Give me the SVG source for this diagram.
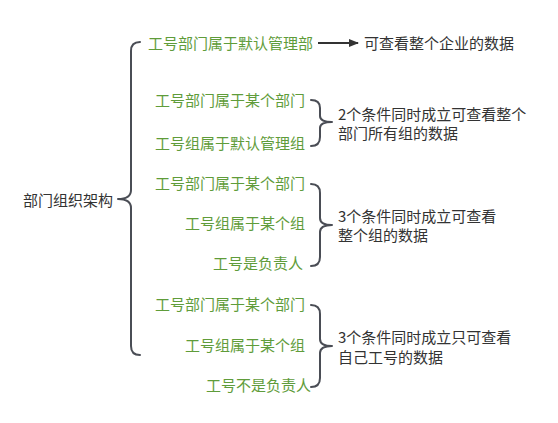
<svg xmlns="http://www.w3.org/2000/svg" width="558" height="423" viewBox="0 0 558 423">
<defs>
<style>
text{font-family:"Noto Sans CJK SC","Microsoft YaHei",sans-serif;font-size:15px;}
.g{fill:#5f9c3a;}
.d{fill:#333333;}
.br{fill:none;stroke:#4a4d55;stroke-width:2;stroke-linecap:round;stroke-linejoin:round;}
</style>
<marker id="ah" markerWidth="10" markerHeight="8" refX="9" refY="4" orient="auto" markerUnits="userSpaceOnUse">
<path d="M0,0 L10,4 L0,8 Z" fill="#333333"/>
</marker>
</defs>
<rect width="558" height="423" fill="#ffffff"/>
<g id="connectors">
<path class="br" d="M140,42 Q131,42 131,51 L131,190 Q131,199 118,199 Q131,199 131,208 L131,346 Q131,355 140,355"/>
<line x1="318" y1="43" x2="358" y2="43" stroke="#333333" stroke-width="2" marker-end="url(#ah)"/>
<path class="br" d="M311,100 Q320,100 320,108 L320,116 Q320,122 332,122 Q320,122 320,128 L320,137 Q320,146 311,146"/>
<path class="br" d="M311,184 Q320,184 320,193 L320,218 Q320,225 332,225 Q320,225 320,232 L320,257 Q320,266 311,266"/>
<path class="br" d="M311,305 Q320,305 320,314 L320,339 Q320,346 332,346 Q320,346 320,353 L320,378 Q320,387 311,387"/>
</g>
<g id="root"><text class="d" x="23" y="205.5">部门组织架构</text></g>
<g id="n1"><text class="g" x="148" y="48.5">工号部门属于默认管理部</text></g>
<g id="r1"><text class="d" x="364" y="48.5">可查看整个企业的数据</text></g>
<g id="n2a"><text class="g" x="155" y="105.5">工号部门属于某个部门</text></g>
<g id="n2b"><text class="g" x="155" y="148.5">工号组属于默认管理组</text></g>
<g id="r2"><text class="d" x="338" y="119.5">2个条件同时成立可查看整个</text><text class="d" x="338" y="138.5">部门所有组的数据</text></g>
<g id="n3a"><text class="g" x="155" y="188.5">工号部门属于某个部门</text></g>
<g id="n3b"><text class="g" x="185" y="228.5">工号组属于某个组</text></g>
<g id="n3c"><text class="g" x="213" y="268.5">工号是负责人</text></g>
<g id="r3"><text class="d" x="338" y="221.5">3个条件同时成立可查看</text><text class="d" x="338" y="240.5">整个组的数据</text></g>
<g id="n4a"><text class="g" x="155" y="309.5">工号部门属于某个部门</text></g>
<g id="n4b"><text class="g" x="185" y="350.5">工号组属于某个组</text></g>
<g id="n4c"><text class="g" x="206" y="390.5">工号不是负责人</text></g>
<g id="r4"><text class="d" x="338" y="342.5">3个条件同时成立只可查看</text><text class="d" x="338" y="362.5">自己工号的数据</text></g>
</svg>
